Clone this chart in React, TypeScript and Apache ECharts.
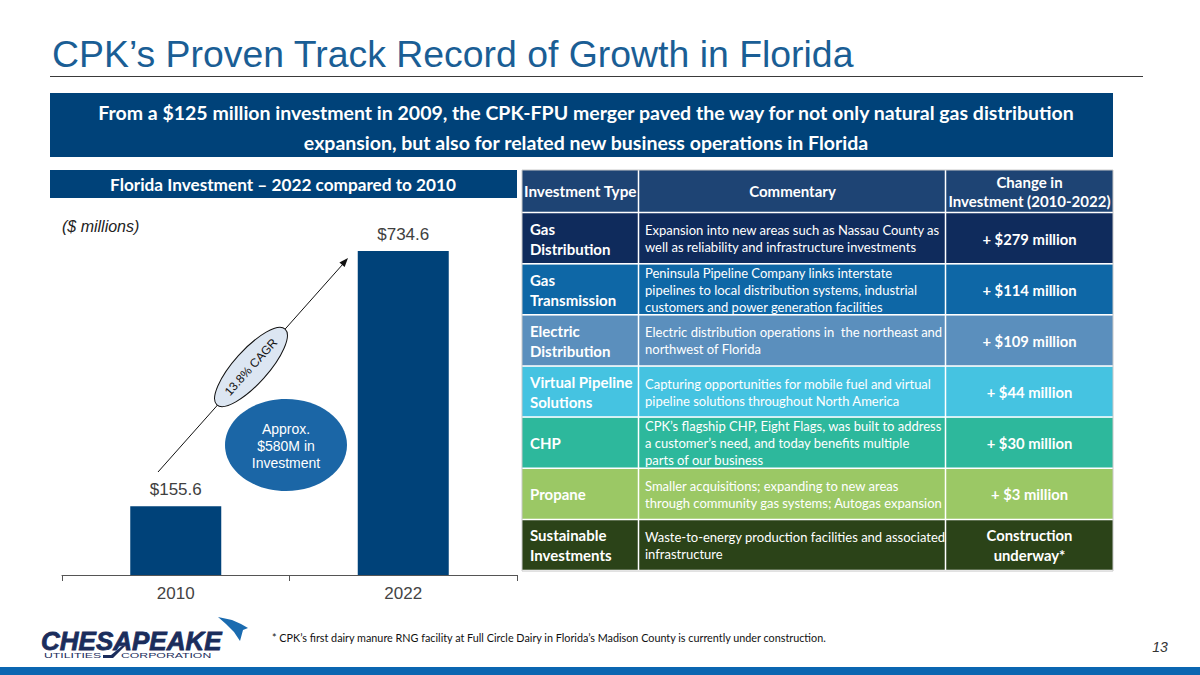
import React, { useEffect, useRef } from "react";
import * as echarts from "echarts";

const categories = ["2010", "2022"];
const investmentValues = [155.6, 734.6];

const tableHeaders = ["Investment Type", "Commentary", "Change in\nInvestment (2010-2022)"];
const investmentTypes = [
  "Gas\nDistribution",
  "Gas\nTransmission",
  "Electric\nDistribution",
  "Virtual Pipeline\nSolutions",
  "CHP",
  "Propane",
  "Sustainable\nInvestments",
];
const commentary = [
  "Expansion into new areas such as Nassau County as\nwell as reliability and infrastructure investments",
  "Peninsula Pipeline Company links interstate\npipelines to local distribution systems, industrial\ncustomers and power generation facilities",
  "Electric distribution operations in  the northeast and\nnorthwest of Florida",
  "Capturing opportunities for mobile fuel and virtual\npipeline solutions throughout North America",
  "CPK\u2019s flagship CHP, Eight Flags, was built to address\na customer\u2019s need, and today benefits multiple\nparts of our business",
  "Smaller acquisitions; expanding to new areas\nthrough community gas systems; Autogas expansion",
  "Waste-to-energy production facilities and associated\ninfrastructure",
];
const investmentChanges = [
  "+ $279 million",
  "+ $114 million",
  "+ $109 million",
  "+ $44 million",
  "+ $30 million",
  "+ $3 million",
  "Construction\nunderway*",
];
const rowColors = ["#0f2b5c", "#0e67a6", "#5b8fbd", "#45c3e1", "#2db89c", "#9bc865", "#2b4318"];

const TITLE = "CPK\u2019s Proven Track Record of Growth in Florida";
const BANNER = "From a $125 million investment in 2009, the CPK-FPU merger paved the way for not only natural gas distribution\nexpansion, but also for related new business operations in Florida";
const CHART_HEADER = "Florida Investment \u2013 2022 compared to 2010";
const UNITS = "($ millions)";
const CAGR = "13.8% CAGR";
const BUBBLE = "Approx.\n$580M in\nInvestment";
const FOOTNOTE = "* CPK\u2019s first dairy manure RNG facility at Full Circle Dairy in Florida\u2019s Madison County is currently under construction.";
const PAGE = "13";

const NAVY = "#004279";
const CAL = "Lato, 'Open Sans', sans-serif";
const ARIAL = "'Liberation Sans', Arial, sans-serif";

function buildGraphics(): any[] {
  const g: any[] = [];
  // Title
  g.push({ type: "text", x: 52, y: 54, style: { text: TITLE, fill: "#1a5e95", fontSize: 37.4, fontFamily: ARIAL, verticalAlign: "middle" } });
  g.push({ type: "line", shape: { x1: 50, y1: 76.5, x2: 1143, y2: 76.5 }, style: { stroke: "#3a3a3a", lineWidth: 1 } });
  // Banner
  g.push({ type: "rect", shape: { x: 50, y: 93, width: 1063, height: 64 }, style: { fill: NAVY } });
  g.push({ type: "text", x: 586, y: 127, style: { text: BANNER, fill: "#fff", fontSize: 19.5, fontWeight: "bold", fontFamily: CAL, align: "center", verticalAlign: "middle", lineHeight: 30 } });
  // Chart header
  g.push({ type: "rect", shape: { x: 50, y: 170, width: 467, height: 28 }, style: { fill: NAVY } });
  g.push({ type: "text", x: 283, y: 184, style: { text: CHART_HEADER, fill: "#fff", fontSize: 17.2, fontWeight: "bold", fontFamily: CAL, align: "center", verticalAlign: "middle" } });
  g.push({ type: "text", x: 62, y: 226, style: { text: UNITS, fill: "#222", fontSize: 16, fontStyle: "italic", fontFamily: ARIAL, verticalAlign: "middle" } });

  // Arrow
  g.push({ type: "line", shape: { x1: 158, y1: 472, x2: 343, y2: 264 }, style: { stroke: "#111", lineWidth: 1 } });
  g.push({ type: "polygon", shape: { points: [[348, 258], [344.6, 267.0], [339.4, 262.4]] }, style: { fill: "#111" } });
  // CAGR ellipse
  const rot = (48 * Math.PI) / 180;
  g.push({ type: "ellipse", x: 251, y: 367, rotation: rot, shape: { cx: 0, cy: 0, rx: 51, ry: 17 }, style: { fill: "#dce6f2", stroke: "#111", lineWidth: 1 } });
  g.push({ type: "text", x: 251, y: 367, rotation: rot, style: { text: CAGR, fill: "#111", fontSize: 12, fontFamily: ARIAL, align: "center", verticalAlign: "middle" } });
  // Investment bubble
  g.push({ type: "ellipse", shape: { cx: 286, cy: 445, rx: 61, ry: 46 }, style: { fill: "#1b66a6" } });
  g.push({ type: "text", x: 286, y: 446, style: { text: BUBBLE, fill: "#fff", fontSize: 14, fontFamily: ARIAL, align: "center", verticalAlign: "middle", lineHeight: 17 } });

  // Table
  const tx = 522;
  const cols = [tx, 639, 946, 1113];
  const headTop = 170;
  const headH = 42;
  const rowTop = 213;
  const rowH = 51.15;
  g.push({ type: "rect", shape: { x: tx, y: headTop, width: cols[3] - tx, height: headH }, style: { fill: "#1e4474" } });
  g.push({ type: "text", x: cols[0] + 2, y: headTop + 21, style: { text: tableHeaders[0], fill: "#fff", fontSize: 15.3, fontWeight: "bold", fontFamily: CAL, verticalAlign: "middle" } });
  g.push({ type: "text", x: (cols[1] + cols[2]) / 2, y: headTop + 21, style: { text: tableHeaders[1], fill: "#fff", fontSize: 15, fontWeight: "bold", fontFamily: CAL, align: "center", verticalAlign: "middle" } });
  g.push({ type: "text", x: (cols[2] + cols[3]) / 2, y: headTop + 21, style: { text: tableHeaders[2], fill: "#fff", fontSize: 15, fontWeight: "bold", fontFamily: CAL, align: "center", verticalAlign: "middle", lineHeight: 19 } });

  investmentTypes.forEach((t, i) => {
    const y0 = rowTop + i * rowH;
    const cy = y0 + rowH / 2;
    g.push({ type: "rect", shape: { x: tx, y: y0, width: cols[3] - tx, height: rowH }, style: { fill: rowColors[i] } });
    g.push({ type: "text", x: cols[0] + 8, y: cy, style: { text: t, fill: "#fff", fontSize: 15, fontWeight: "bold", fontFamily: CAL, verticalAlign: "middle", lineHeight: 20 } });
    g.push({ type: "text", x: cols[1] + 6, y: cy, style: { text: commentary[i], fill: "#fff", fontSize: 13, fontFamily: CAL, verticalAlign: "middle", lineHeight: 17 } });
    g.push({ type: "text", x: (cols[2] + cols[3]) / 2, y: cy, style: { text: investmentChanges[i], fill: "#fff", fontSize: 14.8, fontWeight: "bold", fontFamily: CAL, align: "center", verticalAlign: "middle", lineHeight: 20 } });
  });
  // grid lines
  for (let i = 0; i <= investmentTypes.length; i++) {
    const y = rowTop + i * rowH - 0.5;
    g.push({ type: "line", shape: { x1: tx, y1: y, x2: cols[3], y2: y }, style: { stroke: "#fff", lineWidth: 1.5 } });
  }
  [cols[1], cols[2]].forEach((x) => {
    g.push({ type: "line", shape: { x1: x - 0.5, y1: headTop, x2: x - 0.5, y2: rowTop + 7 * rowH }, style: { stroke: "#fff", lineWidth: 1.5 } });
  });
  g.push({ type: "rect", shape: { x: tx, y: headTop, width: cols[3] - tx, height: rowTop + 7 * rowH - headTop }, style: { fill: "none", stroke: "#c8c8c8", lineWidth: 1 } });

  // Footer
  g.push({ type: "text", x: 272, y: 637, style: { text: FOOTNOTE, fill: "#111", fontSize: 10.8, fontFamily: CAL, verticalAlign: "middle" } });
  g.push({ type: "text", x: 1160, y: 647, style: { text: PAGE, fill: "#333", fontSize: 14, fontStyle: "italic", fontFamily: ARIAL, align: "center", verticalAlign: "middle" } });
  g.push({ type: "rect", shape: { x: 0, y: 667, width: 1200, height: 8 }, style: { fill: "#0b66b1" } });

  // Logo
  g.push({ type: "text", x: 41, y: 641, style: { text: "CHESAPEAKE", fill: "#1b2d5c", fontSize: 26, fontWeight: "bold", fontStyle: "italic", fontFamily: ARIAL, verticalAlign: "middle", stroke: "#1b2d5c", lineWidth: 0.8 } });
  g.push({ type: "text", x: 44, y: 656, scaleX: 1.75, originX: 0, originY: 0, style: { text: "UTILITIES", fill: "#1b2d5c", fontSize: 7, fontFamily: ARIAL, verticalAlign: "middle" } });
  g.push({ type: "text", x: 121, y: 656, scaleX: 1.75, originX: 0, originY: 0, style: { text: "CORPORATION", fill: "#1b2d5c", fontSize: 7, fontFamily: ARIAL, verticalAlign: "middle" } });
  g.push({ type: "polygon", shape: { points: [[103, 655], [111, 655], [122, 646], [125, 646], [113, 658], [103, 658]] }, style: { fill: "#1b2d5c" } });
  g.push({ type: "polygon", shape: { points: [[218, 617], [232, 620], [241, 624], [248, 628], [243, 630], [240, 641], [234, 632], [226, 624]] }, style: { fill: "#1a6bb0" } });
  return g;
}

export default function App() {
  const ref = useRef<HTMLDivElement>(null);
  useEffect(() => {
    if (!ref.current) return;
    const chart = echarts.init(ref.current, null, { renderer: "svg" });
    chart.setOption({
      animation: false,
      backgroundColor: "#ffffff",
      grid: { left: 62, right: 683, top: 251, bottom: 100, containLabel: false },
      xAxis: {
        type: "category",
        data: categories,
        axisLine: { lineStyle: { color: "#555", width: 1 } },
        axisTick: { show: true, length: 6, lineStyle: { color: "#555" } },
        axisLabel: { color: "#444", fontSize: 17, fontFamily: ARIAL, margin: 10 },
      },
      yAxis: { type: "value", show: false, min: 0, max: 734.6, splitLine: { show: false } },
      series: [
        {
          type: "bar",
          data: investmentValues,
          barWidth: 91,
          itemStyle: { color: NAVY },
          label: {
            show: true,
            position: "top",
            distance: 8,
            color: "#404040",
            fontSize: 17,
            fontFamily: ARIAL,
            formatter: (p: any) => "$" + Number(p.value).toFixed(1),
          },
        },
      ],
      graphic: buildGraphics(),
    });
    return () => chart.dispose();
  }, []);
  return <div ref={ref} style={{ position: "absolute", left: 0, top: 0, width: 1200, height: 675 }} />;
}
